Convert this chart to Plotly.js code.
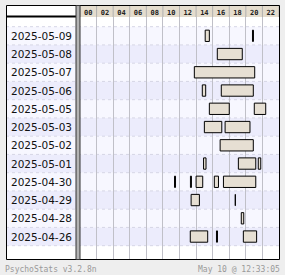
<!DOCTYPE html>
<html><head><meta charset="utf-8">
<script src="https://cdn.plot.ly/plotly-3.0.1.min.js"></script>
<style>html,body{margin:0;padding:0;background:#eeeeee;} #chart{width:285px;height:275px;}</style>
</head><body><div id="chart"></div>
<script>
const days = ['2025-05-09','2025-05-08','2025-05-07','2025-05-06','2025-05-05','2025-05-03','2025-05-02','2025-05-01','2025-04-30','2025-04-29','2025-04-28','2025-04-26'];
const hourLabels = ['00','02','04','06','08','10','12','14','16','18','20','22'];
const hourLabelPos = [1,3,5,7,9,11,13,15,17,19,21,23];
const hourBounds = [0,2,4,6,8,10,12,14,16,18,20,22,24];
const sessionDay   = [0,0, 1, 2, 3,3, 4,4, 5,5, 6, 7,7,7, 8,8,8,8,8, 9,9, 10, 11,11,11];
const sessionStart = [15.1,20.8, 16.56, 13.79, 14.75,17.04, 15.6,21.02, 15.0,17.5, 16.9, 14.9,19.1,21.5, 11.4,13.32,14.0,16.2,17.3, 13.4,18.72, 19.45, 13.3,16.46,19.7];
const sessionEnd   = [15.6,20.92, 19.57, 21.07, 15.16,20.9, 18.0,22.4, 17.1,20.5, 20.9, 15.2,21.2,21.8, 11.52,13.44,14.8,16.7,21.2, 14.4,18.74, 19.75, 15.4,16.58,21.3];
const footerLeft = 'PsychoStats v3.2.8n';
const footerRight = 'May 10 @ 12:33:05';

const L=80, R=279, T=17, B=259;
const pw = R-L, ph = B-T;
const yTop=-1.03, yBot=12.23;
const px = p => (p-L)/pw;
const py = q => (B-q)/ph;
const yp = v => (yBot - v)/(yBot-yTop);

const shapes = [];
shapes.push({type:'rect', xref:'paper', yref:'paper', x0:px(6), x1:px(279), y0:py(259), y1:py(5), fillcolor:'#ffffff', line:{width:0}, layer:'below'});
days.forEach((d,i)=> shapes.push({type:'rect', xref:'paper', yref:'paper', x0:px(6), x1:1, y0:yp(i+0.5), y1:yp(i-0.5), fillcolor: i%2 ? '#ececfc' : '#f7f7ff', line:{width:0}, layer:'below'}));
for (let i=0;i<=days.length;i++) shapes.push({type:'line', xref:'paper', yref:'paper', x0:px(6), x1:1, y0:yp(i-0.5), y1:yp(i-0.5), line:{color:'#d6d6e6', width:1, dash:'3px,3px'}, layer:'below'});
shapes.push({type:'rect', xref:'paper', yref:'paper', x0:0, x1:1, y0:1, y1:py(5), fillcolor:'#e4dccd', line:{width:0}, layer:'below'});
hourBounds.forEach(h => shapes.push({type:'line', xref:'paper', yref:'paper', x0:h/24, x1:h/24, y0:1, y1:py(5), line:{color:'#b0b0b0', width:1}, layer:'below'}));
// borders
shapes.push({type:'rect', xref:'paper', yref:'paper', x0:px(6.5), x1:px(279.5), y0:py(259.5), y1:py(5.5), line:{color:'#000', width:1}, layer:'above'});
shapes.push({type:'line', xref:'paper', yref:'paper', x0:px(6), x1:px(76), y0:py(16.5), y1:py(16.5), line:{color:'#000', width:2}, layer:'above'});
shapes.push({type:'rect', xref:'paper', yref:'paper', x0:px(76), x1:px(80), y0:py(259.5), y1:py(5.5), fillcolor:'#b4b4b4', line:{color:'#333', width:1}, layer:'above'});

const annotations = days.map((d,i)=>({xref:'paper', yref:'paper', x:px(9), y:yp(i), xanchor:'left', yanchor:'middle', text:d, showarrow:false, font:{family:'DejaVu Sans', size:10.5, color:'#111'}}));
annotations.push({xref:'paper', yref:'paper', x:px(3), y:py(269), xanchor:'left', yanchor:'middle', text:footerLeft, showarrow:false, font:{family:'DejaVu Sans Mono', size:8, color:'#999'}});
annotations.push({xref:'paper', yref:'paper', x:px(282), y:py(269), xanchor:'right', yanchor:'middle', text:footerRight, showarrow:false, font:{family:'DejaVu Sans Mono', size:8, color:'#999'}});

const trace = {type:'bar', orientation:'h', y: sessionDay, base: sessionStart,
  x: sessionEnd.map((e,k)=>e-sessionStart[k]), width:0.62,
  marker:{color:'#e6dfd3', line:{color:'#000', width:1}}, hoverinfo:'skip'};

const layout = {
  width:285, height:275, margin:{l:L, r:285-R, t:T, b:275-B},
  paper_bgcolor:'#eeeeee', plot_bgcolor:'rgba(0,0,0,0)', showlegend:false,
  xaxis:{range:[0,24], side:'top', tickmode:'array', tickvals:hourLabelPos, ticktext:hourLabels, ticks:'', showgrid:false, zeroline:false, showline:false,
    tickfont:{family:'DejaVu Sans Mono', size:7, color:'#222', weight:'bold'},
    minor:{tickmode:'array', tickvals:hourBounds, showgrid:true, gridcolor:'#c0c0c8', gridwidth:1, ticks:''}, fixedrange:true},
  yaxis:{range:[yBot, yTop], showticklabels:false, showgrid:false, zeroline:false, showline:false, fixedrange:true},
  shapes, annotations, bargap:0
};
Plotly.newPlot('chart', [trace], layout, {displayModeBar:false, staticPlot:true});
</script></body></html>
